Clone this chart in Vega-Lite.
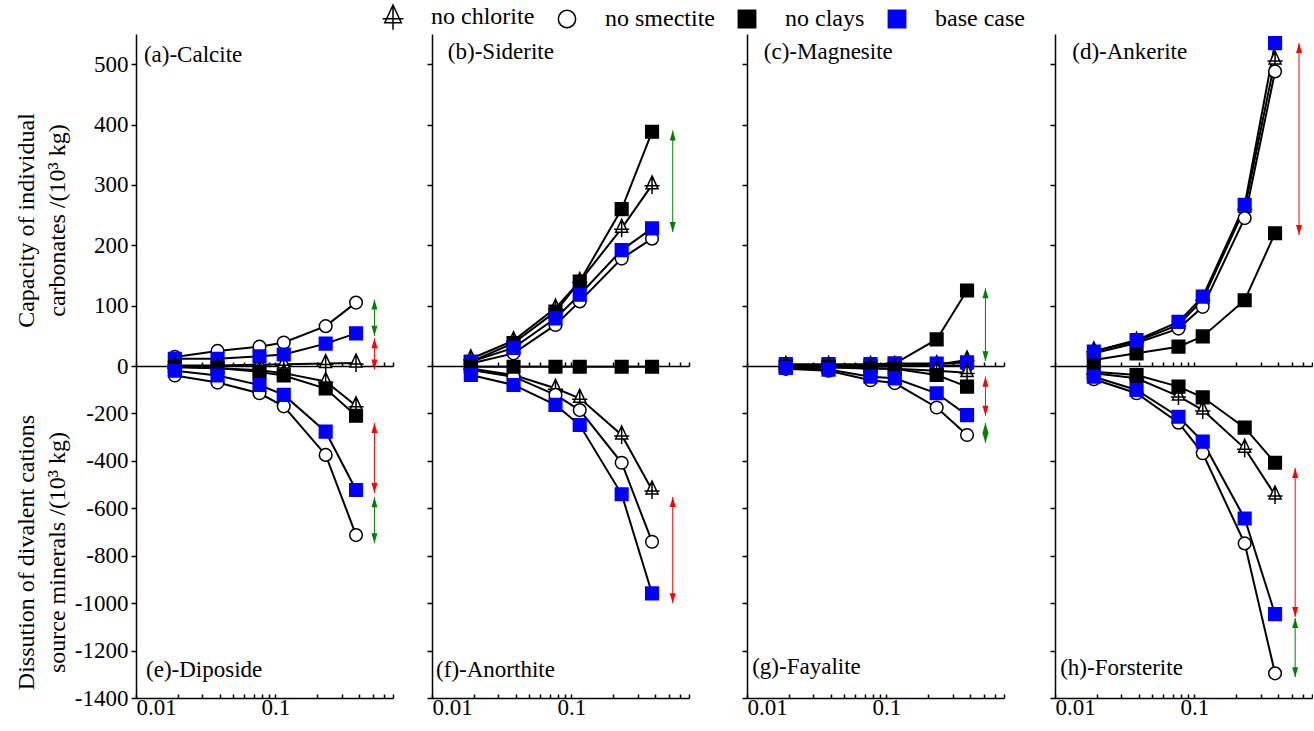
{
"$schema": "https://vega.github.io/schema/vega-lite/v6.json",
"padding": {"left": 13, "top": 5, "right": 0, "bottom": 0},
"config": {
  "font": "Liberation Serif",
  "view": {"stroke": null},
  "axis": {"grid": false, "domainColor": "black", "tickColor": "black", "labelColor": "black", "titleColor": "black", "labelFont": "Liberation Serif", "titleFont": "Liberation Serif", "labelFontSize": 23, "titleFontSize": 24, "titleFontWeight": "normal", "domainWidth": 1.5, "tickWidth": 1.5},
  "legend": {"orient": "none", "legendX": 245, "legendY": -29, "direction": "horizontal", "symbolSize": 300, "symbolStrokeWidth": 1.5, "labelFont": "Liberation Serif", "labelFontSize": 24, "labelColor": "black", "columnPadding": 20, "labelOffset": 26, "padding": 0}
},
"datasets": {
  "pts": [
    {"p":"a","case":"no chlorite","x":0.019,"y":1},{"p":"a","case":"no chlorite","x":0.0385,"y":1},{"p":"a","case":"no chlorite","x":0.077,"y":2},{"p":"a","case":"no chlorite","x":0.115,"y":3},{"p":"a","case":"no chlorite","x":0.23,"y":4},{"p":"a","case":"no chlorite","x":0.38,"y":5},
    {"p":"a","case":"no smectite","x":0.019,"y":15},{"p":"a","case":"no smectite","x":0.0385,"y":25},{"p":"a","case":"no smectite","x":0.077,"y":32},{"p":"a","case":"no smectite","x":0.115,"y":39},{"p":"a","case":"no smectite","x":0.23,"y":66},{"p":"a","case":"no smectite","x":0.38,"y":105},
    {"p":"a","case":"base case","x":0.019,"y":12},{"p":"a","case":"base case","x":0.0385,"y":12},{"p":"a","case":"base case","x":0.077,"y":16},{"p":"a","case":"base case","x":0.115,"y":19},{"p":"a","case":"base case","x":0.23,"y":37},{"p":"a","case":"base case","x":0.38,"y":54},

    {"p":"e","case":"no chlorite","x":0.019,"y":-5},{"p":"e","case":"no chlorite","x":0.0385,"y":-10},{"p":"e","case":"no chlorite","x":0.077,"y":-18},{"p":"e","case":"no chlorite","x":0.115,"y":-30},{"p":"e","case":"no chlorite","x":0.23,"y":-65},{"p":"e","case":"no chlorite","x":0.38,"y":-168},
    {"p":"e","case":"no smectite","x":0.019,"y":-40},{"p":"e","case":"no smectite","x":0.0385,"y":-70},{"p":"e","case":"no smectite","x":0.077,"y":-115},{"p":"e","case":"no smectite","x":0.115,"y":-170},{"p":"e","case":"no smectite","x":0.23,"y":-375},{"p":"e","case":"no smectite","x":0.38,"y":-713},
    {"p":"e","case":"no clays","x":0.019,"y":-3},{"p":"e","case":"no clays","x":0.0385,"y":-8},{"p":"e","case":"no clays","x":0.077,"y":-25},{"p":"e","case":"no clays","x":0.115,"y":-40},{"p":"e","case":"no clays","x":0.23,"y":-95},{"p":"e","case":"no clays","x":0.38,"y":-210},
    {"p":"e","case":"base case","x":0.019,"y":-20},{"p":"e","case":"base case","x":0.0385,"y":-40},{"p":"e","case":"base case","x":0.077,"y":-80},{"p":"e","case":"base case","x":0.115,"y":-122},{"p":"e","case":"base case","x":0.23,"y":-277},{"p":"e","case":"base case","x":0.38,"y":-523},

    {"p":"b","case":"no chlorite","x":0.019,"y":12},{"p":"b","case":"no chlorite","x":0.0385,"y":42},{"p":"b","case":"no chlorite","x":0.077,"y":96},{"p":"b","case":"no chlorite","x":0.115,"y":140},{"p":"b","case":"no chlorite","x":0.23,"y":228},{"p":"b","case":"no chlorite","x":0.38,"y":300},
    {"p":"b","case":"no smectite","x":0.019,"y":4},{"p":"b","case":"no smectite","x":0.0385,"y":21},{"p":"b","case":"no smectite","x":0.077,"y":68},{"p":"b","case":"no smectite","x":0.115,"y":107},{"p":"b","case":"no smectite","x":0.23,"y":178},{"p":"b","case":"no smectite","x":0.38,"y":211},
    {"p":"b","case":"no clays","x":0.019,"y":7},{"p":"b","case":"no clays","x":0.0385,"y":38},{"p":"b","case":"no clays","x":0.077,"y":90},{"p":"b","case":"no clays","x":0.115,"y":140},{"p":"b","case":"no clays","x":0.23,"y":260},{"p":"b","case":"no clays","x":0.38,"y":388},
    {"p":"b","case":"base case","x":0.019,"y":7},{"p":"b","case":"base case","x":0.0385,"y":30},{"p":"b","case":"base case","x":0.077,"y":79},{"p":"b","case":"base case","x":0.115,"y":118},{"p":"b","case":"base case","x":0.23,"y":192},{"p":"b","case":"base case","x":0.38,"y":228},

    {"p":"f","case":"no chlorite","x":0.019,"y":-10},{"p":"f","case":"no chlorite","x":0.0385,"y":-38},{"p":"f","case":"no chlorite","x":0.077,"y":-94},{"p":"f","case":"no chlorite","x":0.115,"y":-136},{"p":"f","case":"no chlorite","x":0.23,"y":-291},{"p":"f","case":"no chlorite","x":0.38,"y":-523},
    {"p":"f","case":"no smectite","x":0.019,"y":-17},{"p":"f","case":"no smectite","x":0.0385,"y":-45},{"p":"f","case":"no smectite","x":0.077,"y":-122},{"p":"f","case":"no smectite","x":0.115,"y":-186},{"p":"f","case":"no smectite","x":0.23,"y":-408},{"p":"f","case":"no smectite","x":0.38,"y":-741},
    {"p":"f","case":"no clays","x":0.019,"y":-3},{"p":"f","case":"no clays","x":0.0385,"y":-3},{"p":"f","case":"no clays","x":0.077,"y":-3},{"p":"f","case":"no clays","x":0.115,"y":-3},{"p":"f","case":"no clays","x":0.23,"y":-3},{"p":"f","case":"no clays","x":0.38,"y":-3},
    {"p":"f","case":"base case","x":0.019,"y":-38},{"p":"f","case":"base case","x":0.0385,"y":-80},{"p":"f","case":"base case","x":0.077,"y":-164},{"p":"f","case":"base case","x":0.115,"y":-249},{"p":"f","case":"base case","x":0.23,"y":-541},{"p":"f","case":"base case","x":0.38,"y":-959},

    {"p":"c","case":"no chlorite","x":0.019,"y":1},{"p":"c","case":"no chlorite","x":0.0385,"y":1},{"p":"c","case":"no chlorite","x":0.077,"y":1},{"p":"c","case":"no chlorite","x":0.115,"y":1},{"p":"c","case":"no chlorite","x":0.23,"y":2},{"p":"c","case":"no chlorite","x":0.38,"y":10},
    {"p":"c","case":"no smectite","x":0.019,"y":1},{"p":"c","case":"no smectite","x":0.0385,"y":1},{"p":"c","case":"no smectite","x":0.077,"y":1},{"p":"c","case":"no smectite","x":0.115,"y":1},{"p":"c","case":"no smectite","x":0.23,"y":1},{"p":"c","case":"no smectite","x":0.38,"y":1},
    {"p":"c","case":"no clays","x":0.019,"y":0},{"p":"c","case":"no clays","x":0.0385,"y":0},{"p":"c","case":"no clays","x":0.077,"y":0},{"p":"c","case":"no clays","x":0.115,"y":4},{"p":"c","case":"no clays","x":0.23,"y":44},{"p":"c","case":"no clays","x":0.38,"y":125},
    {"p":"c","case":"base case","x":0.019,"y":3},{"p":"c","case":"base case","x":0.0385,"y":3},{"p":"c","case":"base case","x":0.077,"y":3},{"p":"c","case":"base case","x":0.115,"y":4},{"p":"c","case":"base case","x":0.23,"y":4},{"p":"c","case":"base case","x":0.38,"y":6},

    {"p":"g","case":"no chlorite","x":0.019,"y":-3},{"p":"g","case":"no chlorite","x":0.0385,"y":-5},{"p":"g","case":"no chlorite","x":0.077,"y":-8},{"p":"g","case":"no chlorite","x":0.115,"y":-12},{"p":"g","case":"no chlorite","x":0.23,"y":-20},{"p":"g","case":"no chlorite","x":0.38,"y":-28},
    {"p":"g","case":"no smectite","x":0.019,"y":-12},{"p":"g","case":"no smectite","x":0.0385,"y":-20},{"p":"g","case":"no smectite","x":0.077,"y":-60},{"p":"g","case":"no smectite","x":0.115,"y":-72},{"p":"g","case":"no smectite","x":0.23,"y":-175},{"p":"g","case":"no smectite","x":0.38,"y":-291},
    {"p":"g","case":"no clays","x":0.019,"y":-5},{"p":"g","case":"no clays","x":0.0385,"y":-5},{"p":"g","case":"no clays","x":0.077,"y":-12},{"p":"g","case":"no clays","x":0.115,"y":-12},{"p":"g","case":"no clays","x":0.23,"y":-38},{"p":"g","case":"no clays","x":0.38,"y":-87},
    {"p":"g","case":"base case","x":0.019,"y":-8},{"p":"g","case":"base case","x":0.0385,"y":-15},{"p":"g","case":"base case","x":0.077,"y":-45},{"p":"g","case":"base case","x":0.115,"y":-52},{"p":"g","case":"base case","x":0.23,"y":-115},{"p":"g","case":"base case","x":0.38,"y":-207},

    {"p":"d","case":"no chlorite","x":0.019,"y":25},{"p":"d","case":"no chlorite","x":0.0385,"y":41},{"p":"d","case":"no chlorite","x":0.077,"y":68},{"p":"d","case":"no chlorite","x":0.115,"y":110},{"p":"d","case":"no chlorite","x":0.23,"y":261},{"p":"d","case":"no chlorite","x":0.38,"y":507},
    {"p":"d","case":"no smectite","x":0.019,"y":21},{"p":"d","case":"no smectite","x":0.0385,"y":38},{"p":"d","case":"no smectite","x":0.077,"y":62},{"p":"d","case":"no smectite","x":0.115,"y":98},{"p":"d","case":"no smectite","x":0.23,"y":245},{"p":"d","case":"no smectite","x":0.38,"y":488},
    {"p":"d","case":"no clays","x":0.019,"y":10},{"p":"d","case":"no clays","x":0.0385,"y":21},{"p":"d","case":"no clays","x":0.077,"y":32},{"p":"d","case":"no clays","x":0.115,"y":49},{"p":"d","case":"no clays","x":0.23,"y":109},{"p":"d","case":"no clays","x":0.38,"y":220},
    {"p":"d","case":"base case","x":0.019,"y":24},{"p":"d","case":"base case","x":0.0385,"y":43},{"p":"d","case":"base case","x":0.077,"y":73},{"p":"d","case":"base case","x":0.115,"y":115},{"p":"d","case":"base case","x":0.23,"y":267},{"p":"d","case":"base case","x":0.38,"y":535},

    {"p":"h","case":"no chlorite","x":0.019,"y":-31},{"p":"h","case":"no chlorite","x":0.0385,"y":-52},{"p":"h","case":"no chlorite","x":0.077,"y":-127},{"p":"h","case":"no chlorite","x":0.115,"y":-186},{"p":"h","case":"no chlorite","x":0.23,"y":-347},{"p":"h","case":"no chlorite","x":0.38,"y":-544},
    {"p":"h","case":"no smectite","x":0.019,"y":-56},{"p":"h","case":"no smectite","x":0.0385,"y":-115},{"p":"h","case":"no smectite","x":0.077,"y":-239},{"p":"h","case":"no smectite","x":0.115,"y":-368},{"p":"h","case":"no smectite","x":0.23,"y":-748},{"p":"h","case":"no smectite","x":0.38,"y":-1296},
    {"p":"h","case":"no clays","x":0.019,"y":-24},{"p":"h","case":"no clays","x":0.0385,"y":-38},{"p":"h","case":"no clays","x":0.077,"y":-87},{"p":"h","case":"no clays","x":0.115,"y":-132},{"p":"h","case":"no clays","x":0.23,"y":-260},{"p":"h","case":"no clays","x":0.38,"y":-408},
    {"p":"h","case":"base case","x":0.019,"y":-45},{"p":"h","case":"base case","x":0.0385,"y":-101},{"p":"h","case":"base case","x":0.077,"y":-214},{"p":"h","case":"base case","x":0.115,"y":-319},{"p":"h","case":"base case","x":0.23,"y":-643},{"p":"h","case":"base case","x":0.38,"y":-1046}
  ],
  "arr": [
    {"p":"a","c":"green","y1":110,"y2":50},{"p":"a","c":"red","y1":46,"y2":-6},
    {"p":"e","c":"red","y1":-240,"y2":-536},{"p":"e","c":"green","y1":-553,"y2":-747},
    {"p":"b","c":"green","y1":390,"y2":222},
    {"p":"f","c":"red","y1":-552,"y2":-1000},
    {"p":"c","c":"green","y1":129,"y2":8},
    {"p":"g","c":"red","y1":-45,"y2":-210},{"p":"g","c":"green","y1":-240,"y2":-325},
    {"p":"d","c":"red","y1":535,"y2":217},
    {"p":"h","c":"red","y1":-430,"y2":-1058},{"p":"h","c":"green","y1":-1063,"y2":-1312}
  ]
},
"hconcat": [
  {"vconcat": [
    {"width": 257, "height": 332, "layer": [
      {"data": {"name": "pts"}, "transform": [{"filter": "datum.p === 'a'"}], "mark": {"type": "line", "color": "black", "strokeWidth": 2},
       "encoding": {"x": {"field": "x", "type": "quantitative", "scale": {"type": "log", "domain": [0.01, 0.7], "nice": false}, "axis": {"values": [0.01,0.02,0.03,0.04,0.05,0.06,0.07,0.08,0.09,0.1,0.2,0.3,0.4,0.5,0.6,0.7], "labels": false, "tickSize": -4, "title": null}},
                    "y": {"field": "y", "type": "quantitative", "scale": {"domain": [0, 550], "nice": false}, "axis": {"values": [0,50,100,150,200,250,300,350,400,450,500], "labelExpr": "datum.value % 100 === 0 ? '' + datum.value : ''", "tickSize": 5, "labelPadding": 3, "title": ["Capacity of individual", "carbonates /(10³ kg)"], "titleX": -98, "titleY": 186, "titleLineHeight": 31}},
                    "detail": {"field": "case"}}},
      {"data": {"name": "pts"}, "transform": [{"filter": "datum.p === 'a'"}], "mark": {"type": "point", "filled": true, "opacity": 1, "size": 160, "strokeWidth": 1.5},
       "encoding": {"x": {"field": "x", "type": "quantitative"},
                    "y": {"field": "y", "type": "quantitative"},
                    "shape": {"field": "case", "type": "nominal", "title": null, "scale": {"domain": ["no chlorite","no smectite","no clays","base case"], "range": ["M0,-1.42L0.95,0.62L-0.95,0.62ZM-1.2,0.15L1.2,0.15M0,-1.42L0,1.42","circle","square","square"]}},
                    "fill": {"field": "case", "type": "nominal", "title": null, "scale": {"domain": ["no chlorite","no smectite","no clays","base case"], "range": ["white","white","black","#0000ff"]}},
                    "stroke": {"field": "case", "type": "nominal", "title": null, "scale": {"domain": ["no chlorite","no smectite","no clays","base case"], "range": ["black","black","black","#0000ff"]}}}},
      {"data": {"name": "arr"}, "transform": [{"filter": "datum.p === 'a'"}], "mark": {"type": "rule", "strokeWidth": 1},
       "encoding": {"x": {"datum": 0.515, "type": "quantitative"},
                    "y": {"field": "y1", "type": "quantitative"}, "y2": {"field": "y2"},
                    "color": {"field": "c", "type": "nominal", "scale": null}}},
      {"data": {"name": "arr"}, "transform": [{"filter": "datum.p === 'a'"}], "mark": {"type": "point", "filled": true, "opacity": 1, "size": 100, "strokeWidth": 0, "shape": "M0,0L0.6,2L-0.6,2Z"},
       "encoding": {"x": {"datum": 0.515, "type": "quantitative"},
                    "y": {"field": "y1", "type": "quantitative"},
                    "color": {"field": "c", "type": "nominal", "scale": null}}},
      {"data": {"name": "arr"}, "transform": [{"filter": "datum.p === 'a'"}], "mark": {"type": "point", "filled": true, "opacity": 1, "size": 100, "strokeWidth": 0, "shape": "M0,0L0.6,-2L-0.6,-2Z"},
       "encoding": {"x": {"datum": 0.515, "type": "quantitative"},
                    "y": {"field": "y2", "type": "quantitative"},
                    "color": {"field": "c", "type": "nominal", "scale": null}}},
      {"data": {"values": [{"t": "(a)-Calcite"}]}, "mark": {"type": "text", "align": "left", "baseline": "middle", "fontSize": 23, "color": "black"},
       "encoding": {"x": {"datum": 0.0114, "type": "quantitative"},
                    "y": {"datum": 515, "type": "quantitative"},
                    "text": {"field": "t"}}}
    ]},
    {"width": 257, "height": 332, "layer": [
      {"data": {"name": "pts"}, "transform": [{"filter": "datum.p === 'e'"}], "mark": {"type": "line", "color": "black", "strokeWidth": 2},
       "encoding": {"x": {"field": "x", "type": "quantitative", "scale": {"type": "log", "domain": [0.01, 0.7], "nice": false}, "axis": {"values": [0.01,0.02,0.03,0.04,0.05,0.06,0.07,0.08,0.09,0.1,0.2,0.3,0.4,0.5,0.6,0.7], "labelExpr": "datum.value === 0.01 ? '0.01' : datum.value === 0.1 ? '0.1' : ''", "tickSize": -4, "labelPadding": 2, "title": null}},
                    "y": {"field": "y", "type": "quantitative", "scale": {"domain": [-1400, 0], "nice": false}, "axis": {"values": [-1400,-1300,-1200,-1100,-1000,-900,-800,-700,-600,-500,-400,-300,-200,-100], "labelExpr": "datum.value % 200 === 0 ? '' + datum.value : ''", "tickSize": 5, "labelPadding": 3, "title": ["Dissution of divalent cations", "source minerals /(10³ kg)"], "titleX": -98, "titleY": 186, "titleLineHeight": 31}},
                    "detail": {"field": "case"}}},
      {"data": {"name": "pts"}, "transform": [{"filter": "datum.p === 'e'"}], "mark": {"type": "point", "filled": true, "opacity": 1, "size": 160, "strokeWidth": 1.5},
       "encoding": {"x": {"field": "x", "type": "quantitative"},
                    "y": {"field": "y", "type": "quantitative"},
                    "shape": {"field": "case", "type": "nominal", "title": null, "scale": {"domain": ["no chlorite","no smectite","no clays","base case"], "range": ["M0,-1.42L0.95,0.62L-0.95,0.62ZM-1.2,0.15L1.2,0.15M0,-1.42L0,1.42","circle","square","square"]}},
                    "fill": {"field": "case", "type": "nominal", "title": null, "scale": {"domain": ["no chlorite","no smectite","no clays","base case"], "range": ["white","white","black","#0000ff"]}},
                    "stroke": {"field": "case", "type": "nominal", "title": null, "scale": {"domain": ["no chlorite","no smectite","no clays","base case"], "range": ["black","black","black","#0000ff"]}}}},
      {"data": {"name": "arr"}, "transform": [{"filter": "datum.p === 'e'"}], "mark": {"type": "rule", "strokeWidth": 1},
       "encoding": {"x": {"datum": 0.515, "type": "quantitative"},
                    "y": {"field": "y1", "type": "quantitative"}, "y2": {"field": "y2"},
                    "color": {"field": "c", "type": "nominal", "scale": null}}},
      {"data": {"name": "arr"}, "transform": [{"filter": "datum.p === 'e'"}], "mark": {"type": "point", "filled": true, "opacity": 1, "size": 100, "strokeWidth": 0, "shape": "M0,0L0.6,2L-0.6,2Z"},
       "encoding": {"x": {"datum": 0.515, "type": "quantitative"},
                    "y": {"field": "y1", "type": "quantitative"},
                    "color": {"field": "c", "type": "nominal", "scale": null}}},
      {"data": {"name": "arr"}, "transform": [{"filter": "datum.p === 'e'"}], "mark": {"type": "point", "filled": true, "opacity": 1, "size": 100, "strokeWidth": 0, "shape": "M0,0L0.6,-2L-0.6,-2Z"},
       "encoding": {"x": {"datum": 0.515, "type": "quantitative"},
                    "y": {"field": "y2", "type": "quantitative"},
                    "color": {"field": "c", "type": "nominal", "scale": null}}},
      {"data": {"values": [{"t": "(e)-Diposide"}]}, "mark": {"type": "text", "align": "left", "baseline": "middle", "fontSize": 23, "color": "black"},
       "encoding": {"x": {"datum": 0.0118, "type": "quantitative"},
                    "y": {"datum": -1282, "type": "quantitative"},
                    "text": {"field": "t"}}}
    ]}
  ], "spacing": 0, "bounds": "flush"},
  {"hconcat": [
    {"vconcat": [
      {"width": 257, "height": 332, "layer": [
        {"data": {"name": "pts"}, "transform": [{"filter": "datum.p === 'b'"}], "mark": {"type": "line", "color": "black", "strokeWidth": 2},
         "encoding": {"x": {"field": "x", "type": "quantitative", "scale": {"type": "log", "domain": [0.01, 0.7], "nice": false}, "axis": {"values": [0.01,0.02,0.03,0.04,0.05,0.06,0.07,0.08,0.09,0.1,0.2,0.3,0.4,0.5,0.6,0.7], "labels": false, "tickSize": -4, "title": null}},
                      "y": {"field": "y", "type": "quantitative", "scale": {"domain": [0, 550], "nice": false}, "axis": {"values": [0,50,100,150,200,250,300,350,400,450,500], "labels": false, "tickSize": 5, "title": null}},
                      "detail": {"field": "case"}}},
        {"data": {"name": "pts"}, "transform": [{"filter": "datum.p === 'b'"}], "mark": {"type": "point", "filled": true, "opacity": 1, "size": 160, "strokeWidth": 1.5},
         "encoding": {"x": {"field": "x", "type": "quantitative"},
                      "y": {"field": "y", "type": "quantitative"},
                      "shape": {"field": "case", "type": "nominal", "title": null, "scale": {"domain": ["no chlorite","no smectite","no clays","base case"], "range": ["M0,-1.42L0.95,0.62L-0.95,0.62ZM-1.2,0.15L1.2,0.15M0,-1.42L0,1.42","circle","square","square"]}},
                      "fill": {"field": "case", "type": "nominal", "title": null, "scale": {"domain": ["no chlorite","no smectite","no clays","base case"], "range": ["white","white","black","#0000ff"]}},
                      "stroke": {"field": "case", "type": "nominal", "title": null, "scale": {"domain": ["no chlorite","no smectite","no clays","base case"], "range": ["black","black","black","#0000ff"]}}}},
        {"data": {"name": "arr"}, "transform": [{"filter": "datum.p === 'b'"}], "mark": {"type": "rule", "strokeWidth": 1},
         "encoding": {"x": {"datum": 0.535, "type": "quantitative"},
                      "y": {"field": "y1", "type": "quantitative"}, "y2": {"field": "y2"},
                      "color": {"field": "c", "type": "nominal", "scale": null}}},
        {"data": {"name": "arr"}, "transform": [{"filter": "datum.p === 'b'"}], "mark": {"type": "point", "filled": true, "opacity": 1, "size": 100, "strokeWidth": 0, "shape": "M0,0L0.6,2L-0.6,2Z"},
         "encoding": {"x": {"datum": 0.535, "type": "quantitative"},
                      "y": {"field": "y1", "type": "quantitative"},
                      "color": {"field": "c", "type": "nominal", "scale": null}}},
        {"data": {"name": "arr"}, "transform": [{"filter": "datum.p === 'b'"}], "mark": {"type": "point", "filled": true, "opacity": 1, "size": 100, "strokeWidth": 0, "shape": "M0,0L0.6,-2L-0.6,-2Z"},
         "encoding": {"x": {"datum": 0.535, "type": "quantitative"},
                      "y": {"field": "y2", "type": "quantitative"},
                      "color": {"field": "c", "type": "nominal", "scale": null}}},
        {"data": {"values": [{"t": "(b)-Siderite"}]}, "mark": {"type": "text", "align": "left", "baseline": "middle", "fontSize": 23, "color": "black"},
         "encoding": {"x": {"datum": 0.013, "type": "quantitative"},
                      "y": {"datum": 520, "type": "quantitative"},
                      "text": {"field": "t"}}}
      ]},
      {"width": 257, "height": 332, "layer": [
        {"data": {"name": "pts"}, "transform": [{"filter": "datum.p === 'f'"}], "mark": {"type": "line", "color": "black", "strokeWidth": 2},
         "encoding": {"x": {"field": "x", "type": "quantitative", "scale": {"type": "log", "domain": [0.01, 0.7], "nice": false}, "axis": {"values": [0.01,0.02,0.03,0.04,0.05,0.06,0.07,0.08,0.09,0.1,0.2,0.3,0.4,0.5,0.6,0.7], "labelExpr": "datum.value === 0.01 ? '0.01' : datum.value === 0.1 ? '0.1' : ''", "tickSize": -4, "labelPadding": 2, "title": null}},
                      "y": {"field": "y", "type": "quantitative", "scale": {"domain": [-1400, 0], "nice": false}, "axis": {"values": [-1400,-1300,-1200,-1100,-1000,-900,-800,-700,-600,-500,-400,-300,-200,-100], "labels": false, "tickSize": 5, "title": null}},
                      "detail": {"field": "case"}}},
        {"data": {"name": "pts"}, "transform": [{"filter": "datum.p === 'f'"}], "mark": {"type": "point", "filled": true, "opacity": 1, "size": 160, "strokeWidth": 1.5},
         "encoding": {"x": {"field": "x", "type": "quantitative"},
                      "y": {"field": "y", "type": "quantitative"},
                      "shape": {"field": "case", "type": "nominal", "title": null, "scale": {"domain": ["no chlorite","no smectite","no clays","base case"], "range": ["M0,-1.42L0.95,0.62L-0.95,0.62ZM-1.2,0.15L1.2,0.15M0,-1.42L0,1.42","circle","square","square"]}},
                      "fill": {"field": "case", "type": "nominal", "title": null, "scale": {"domain": ["no chlorite","no smectite","no clays","base case"], "range": ["white","white","black","#0000ff"]}},
                      "stroke": {"field": "case", "type": "nominal", "title": null, "scale": {"domain": ["no chlorite","no smectite","no clays","base case"], "range": ["black","black","black","#0000ff"]}}}},
        {"data": {"name": "arr"}, "transform": [{"filter": "datum.p === 'f'"}], "mark": {"type": "rule", "strokeWidth": 1},
         "encoding": {"x": {"datum": 0.535, "type": "quantitative"},
                      "y": {"field": "y1", "type": "quantitative"}, "y2": {"field": "y2"},
                      "color": {"field": "c", "type": "nominal", "scale": null}}},
        {"data": {"name": "arr"}, "transform": [{"filter": "datum.p === 'f'"}], "mark": {"type": "point", "filled": true, "opacity": 1, "size": 100, "strokeWidth": 0, "shape": "M0,0L0.6,2L-0.6,2Z"},
         "encoding": {"x": {"datum": 0.535, "type": "quantitative"},
                      "y": {"field": "y1", "type": "quantitative"},
                      "color": {"field": "c", "type": "nominal", "scale": null}}},
        {"data": {"name": "arr"}, "transform": [{"filter": "datum.p === 'f'"}], "mark": {"type": "point", "filled": true, "opacity": 1, "size": 100, "strokeWidth": 0, "shape": "M0,0L0.6,-2L-0.6,-2Z"},
         "encoding": {"x": {"datum": 0.535, "type": "quantitative"},
                      "y": {"field": "y2", "type": "quantitative"},
                      "color": {"field": "c", "type": "nominal", "scale": null}}},
        {"data": {"values": [{"t": "(f)-Anorthite"}]}, "mark": {"type": "text", "align": "left", "baseline": "middle", "fontSize": 23, "color": "black"},
         "encoding": {"x": {"datum": 0.0107, "type": "quantitative"},
                      "y": {"datum": -1282, "type": "quantitative"},
                      "text": {"field": "t"}}}
      ]}
    ], "spacing": 0, "bounds": "flush"},
    {"hconcat": [
      {"vconcat": [
        {"width": 257, "height": 332, "layer": [
          {"data": {"name": "pts"}, "transform": [{"filter": "datum.p === 'c'"}], "mark": {"type": "line", "color": "black", "strokeWidth": 2},
           "encoding": {"x": {"field": "x", "type": "quantitative", "scale": {"type": "log", "domain": [0.01, 0.7], "nice": false}, "axis": {"values": [0.01,0.02,0.03,0.04,0.05,0.06,0.07,0.08,0.09,0.1,0.2,0.3,0.4,0.5,0.6,0.7], "labels": false, "tickSize": -4, "title": null}},
                        "y": {"field": "y", "type": "quantitative", "scale": {"domain": [0, 550], "nice": false}, "axis": {"values": [0,50,100,150,200,250,300,350,400,450,500], "labels": false, "tickSize": 5, "title": null}},
                        "detail": {"field": "case"}}},
          {"data": {"name": "pts"}, "transform": [{"filter": "datum.p === 'c'"}], "mark": {"type": "point", "filled": true, "opacity": 1, "size": 160, "strokeWidth": 1.5},
           "encoding": {"x": {"field": "x", "type": "quantitative"},
                        "y": {"field": "y", "type": "quantitative"},
                        "shape": {"field": "case", "type": "nominal", "title": null, "scale": {"domain": ["no chlorite","no smectite","no clays","base case"], "range": ["M0,-1.42L0.95,0.62L-0.95,0.62ZM-1.2,0.15L1.2,0.15M0,-1.42L0,1.42","circle","square","square"]}},
                        "fill": {"field": "case", "type": "nominal", "title": null, "scale": {"domain": ["no chlorite","no smectite","no clays","base case"], "range": ["white","white","black","#0000ff"]}},
                        "stroke": {"field": "case", "type": "nominal", "title": null, "scale": {"domain": ["no chlorite","no smectite","no clays","base case"], "range": ["black","black","black","#0000ff"]}}}},
          {"data": {"name": "arr"}, "transform": [{"filter": "datum.p === 'c'"}], "mark": {"type": "rule", "strokeWidth": 1},
           "encoding": {"x": {"datum": 0.515, "type": "quantitative"},
                        "y": {"field": "y1", "type": "quantitative"}, "y2": {"field": "y2"},
                        "color": {"field": "c", "type": "nominal", "scale": null}}},
          {"data": {"name": "arr"}, "transform": [{"filter": "datum.p === 'c'"}], "mark": {"type": "point", "filled": true, "opacity": 1, "size": 100, "strokeWidth": 0, "shape": "M0,0L0.6,2L-0.6,2Z"},
           "encoding": {"x": {"datum": 0.515, "type": "quantitative"},
                        "y": {"field": "y1", "type": "quantitative"},
                        "color": {"field": "c", "type": "nominal", "scale": null}}},
          {"data": {"name": "arr"}, "transform": [{"filter": "datum.p === 'c'"}], "mark": {"type": "point", "filled": true, "opacity": 1, "size": 100, "strokeWidth": 0, "shape": "M0,0L0.6,-2L-0.6,-2Z"},
           "encoding": {"x": {"datum": 0.515, "type": "quantitative"},
                        "y": {"field": "y2", "type": "quantitative"},
                        "color": {"field": "c", "type": "nominal", "scale": null}}},
          {"data": {"values": [{"t": "(c)-Magnesite"}]}, "mark": {"type": "text", "align": "left", "baseline": "middle", "fontSize": 23, "color": "black"},
           "encoding": {"x": {"datum": 0.0132, "type": "quantitative"},
                        "y": {"datum": 520, "type": "quantitative"},
                        "text": {"field": "t"}}}
        ]},
        {"width": 257, "height": 332, "layer": [
          {"data": {"name": "pts"}, "transform": [{"filter": "datum.p === 'g'"}], "mark": {"type": "line", "color": "black", "strokeWidth": 2},
           "encoding": {"x": {"field": "x", "type": "quantitative", "scale": {"type": "log", "domain": [0.01, 0.7], "nice": false}, "axis": {"values": [0.01,0.02,0.03,0.04,0.05,0.06,0.07,0.08,0.09,0.1,0.2,0.3,0.4,0.5,0.6,0.7], "labelExpr": "datum.value === 0.01 ? '0.01' : datum.value === 0.1 ? '0.1' : ''", "tickSize": -4, "labelPadding": 2, "title": null}},
                        "y": {"field": "y", "type": "quantitative", "scale": {"domain": [-1400, 0], "nice": false}, "axis": {"values": [-1400,-1300,-1200,-1100,-1000,-900,-800,-700,-600,-500,-400,-300,-200,-100], "labels": false, "tickSize": 5, "title": null}},
                        "detail": {"field": "case"}}},
          {"data": {"name": "pts"}, "transform": [{"filter": "datum.p === 'g'"}], "mark": {"type": "point", "filled": true, "opacity": 1, "size": 160, "strokeWidth": 1.5},
           "encoding": {"x": {"field": "x", "type": "quantitative"},
                        "y": {"field": "y", "type": "quantitative"},
                        "shape": {"field": "case", "type": "nominal", "title": null, "scale": {"domain": ["no chlorite","no smectite","no clays","base case"], "range": ["M0,-1.42L0.95,0.62L-0.95,0.62ZM-1.2,0.15L1.2,0.15M0,-1.42L0,1.42","circle","square","square"]}},
                        "fill": {"field": "case", "type": "nominal", "title": null, "scale": {"domain": ["no chlorite","no smectite","no clays","base case"], "range": ["white","white","black","#0000ff"]}},
                        "stroke": {"field": "case", "type": "nominal", "title": null, "scale": {"domain": ["no chlorite","no smectite","no clays","base case"], "range": ["black","black","black","#0000ff"]}}}},
          {"data": {"name": "arr"}, "transform": [{"filter": "datum.p === 'g'"}], "mark": {"type": "rule", "strokeWidth": 1},
           "encoding": {"x": {"datum": 0.515, "type": "quantitative"},
                        "y": {"field": "y1", "type": "quantitative"}, "y2": {"field": "y2"},
                        "color": {"field": "c", "type": "nominal", "scale": null}}},
          {"data": {"name": "arr"}, "transform": [{"filter": "datum.p === 'g'"}], "mark": {"type": "point", "filled": true, "opacity": 1, "size": 100, "strokeWidth": 0, "shape": "M0,0L0.6,2L-0.6,2Z"},
           "encoding": {"x": {"datum": 0.515, "type": "quantitative"},
                        "y": {"field": "y1", "type": "quantitative"},
                        "color": {"field": "c", "type": "nominal", "scale": null}}},
          {"data": {"name": "arr"}, "transform": [{"filter": "datum.p === 'g'"}], "mark": {"type": "point", "filled": true, "opacity": 1, "size": 100, "strokeWidth": 0, "shape": "M0,0L0.6,-2L-0.6,-2Z"},
           "encoding": {"x": {"datum": 0.515, "type": "quantitative"},
                        "y": {"field": "y2", "type": "quantitative"},
                        "color": {"field": "c", "type": "nominal", "scale": null}}},
          {"data": {"values": [{"t": "(g)-Fayalite"}]}, "mark": {"type": "text", "align": "left", "baseline": "middle", "fontSize": 23, "color": "black"},
           "encoding": {"x": {"datum": 0.0109, "type": "quantitative"},
                        "y": {"datum": -1270, "type": "quantitative"},
                        "text": {"field": "t"}}}
        ]}
      ], "spacing": 0, "bounds": "flush"},
      {"vconcat": [
        {"width": 257, "height": 332, "layer": [
          {"data": {"name": "pts"}, "transform": [{"filter": "datum.p === 'd'"}], "mark": {"type": "line", "color": "black", "strokeWidth": 2},
           "encoding": {"x": {"field": "x", "type": "quantitative", "scale": {"type": "log", "domain": [0.01, 0.7], "nice": false}, "axis": {"values": [0.01,0.02,0.03,0.04,0.05,0.06,0.07,0.08,0.09,0.1,0.2,0.3,0.4,0.5,0.6,0.7], "labels": false, "tickSize": -4, "title": null}},
                        "y": {"field": "y", "type": "quantitative", "scale": {"domain": [0, 550], "nice": false}, "axis": {"values": [0,50,100,150,200,250,300,350,400,450,500], "labels": false, "tickSize": 5, "title": null}},
                        "detail": {"field": "case"}}},
          {"data": {"name": "pts"}, "transform": [{"filter": "datum.p === 'd'"}], "mark": {"type": "point", "filled": true, "opacity": 1, "size": 160, "strokeWidth": 1.5},
           "encoding": {"x": {"field": "x", "type": "quantitative"},
                        "y": {"field": "y", "type": "quantitative"},
                        "shape": {"field": "case", "type": "nominal", "title": null, "scale": {"domain": ["no chlorite","no smectite","no clays","base case"], "range": ["M0,-1.42L0.95,0.62L-0.95,0.62ZM-1.2,0.15L1.2,0.15M0,-1.42L0,1.42","circle","square","square"]}},
                        "fill": {"field": "case", "type": "nominal", "title": null, "scale": {"domain": ["no chlorite","no smectite","no clays","base case"], "range": ["white","white","black","#0000ff"]}},
                        "stroke": {"field": "case", "type": "nominal", "title": null, "scale": {"domain": ["no chlorite","no smectite","no clays","base case"], "range": ["black","black","black","#0000ff"]}}}},
          {"data": {"name": "arr"}, "transform": [{"filter": "datum.p === 'd'"}], "mark": {"type": "rule", "strokeWidth": 1},
           "encoding": {"x": {"datum": 0.565, "type": "quantitative"},
                        "y": {"field": "y1", "type": "quantitative"}, "y2": {"field": "y2"},
                        "color": {"field": "c", "type": "nominal", "scale": null}}},
          {"data": {"name": "arr"}, "transform": [{"filter": "datum.p === 'd'"}], "mark": {"type": "point", "filled": true, "opacity": 1, "size": 100, "strokeWidth": 0, "shape": "M0,0L0.6,2L-0.6,2Z"},
           "encoding": {"x": {"datum": 0.565, "type": "quantitative"},
                        "y": {"field": "y1", "type": "quantitative"},
                        "color": {"field": "c", "type": "nominal", "scale": null}}},
          {"data": {"name": "arr"}, "transform": [{"filter": "datum.p === 'd'"}], "mark": {"type": "point", "filled": true, "opacity": 1, "size": 100, "strokeWidth": 0, "shape": "M0,0L0.6,-2L-0.6,-2Z"},
           "encoding": {"x": {"datum": 0.565, "type": "quantitative"},
                        "y": {"field": "y2", "type": "quantitative"},
                        "color": {"field": "c", "type": "nominal", "scale": null}}},
          {"data": {"values": [{"t": "(d)-Ankerite"}]}, "mark": {"type": "text", "align": "left", "baseline": "middle", "fontSize": 23, "color": "black"},
           "encoding": {"x": {"datum": 0.0133, "type": "quantitative"},
                        "y": {"datum": 520, "type": "quantitative"},
                        "text": {"field": "t"}}}
        ]},
        {"width": 257, "height": 332, "layer": [
          {"data": {"name": "pts"}, "transform": [{"filter": "datum.p === 'h'"}], "mark": {"type": "line", "color": "black", "strokeWidth": 2},
           "encoding": {"x": {"field": "x", "type": "quantitative", "scale": {"type": "log", "domain": [0.01, 0.7], "nice": false}, "axis": {"values": [0.01,0.02,0.03,0.04,0.05,0.06,0.07,0.08,0.09,0.1,0.2,0.3,0.4,0.5,0.6,0.7], "labelExpr": "datum.value === 0.01 ? '0.01' : datum.value === 0.1 ? '0.1' : ''", "tickSize": -4, "labelPadding": 2, "title": null}},
                        "y": {"field": "y", "type": "quantitative", "scale": {"domain": [-1400, 0], "nice": false}, "axis": {"values": [-1400,-1300,-1200,-1100,-1000,-900,-800,-700,-600,-500,-400,-300,-200,-100], "labels": false, "tickSize": 5, "title": null}},
                        "detail": {"field": "case"}}},
          {"data": {"name": "pts"}, "transform": [{"filter": "datum.p === 'h'"}], "mark": {"type": "point", "filled": true, "opacity": 1, "size": 160, "strokeWidth": 1.5},
           "encoding": {"x": {"field": "x", "type": "quantitative"},
                        "y": {"field": "y", "type": "quantitative"},
                        "shape": {"field": "case", "type": "nominal", "title": null, "scale": {"domain": ["no chlorite","no smectite","no clays","base case"], "range": ["M0,-1.42L0.95,0.62L-0.95,0.62ZM-1.2,0.15L1.2,0.15M0,-1.42L0,1.42","circle","square","square"]}},
                        "fill": {"field": "case", "type": "nominal", "title": null, "scale": {"domain": ["no chlorite","no smectite","no clays","base case"], "range": ["white","white","black","#0000ff"]}},
                        "stroke": {"field": "case", "type": "nominal", "title": null, "scale": {"domain": ["no chlorite","no smectite","no clays","base case"], "range": ["black","black","black","#0000ff"]}}}},
          {"data": {"name": "arr"}, "transform": [{"filter": "datum.p === 'h'"}], "mark": {"type": "rule", "strokeWidth": 1},
           "encoding": {"x": {"datum": 0.53, "type": "quantitative"},
                        "y": {"field": "y1", "type": "quantitative"}, "y2": {"field": "y2"},
                        "color": {"field": "c", "type": "nominal", "scale": null}}},
          {"data": {"name": "arr"}, "transform": [{"filter": "datum.p === 'h'"}], "mark": {"type": "point", "filled": true, "opacity": 1, "size": 100, "strokeWidth": 0, "shape": "M0,0L0.6,2L-0.6,2Z"},
           "encoding": {"x": {"datum": 0.53, "type": "quantitative"},
                        "y": {"field": "y1", "type": "quantitative"},
                        "color": {"field": "c", "type": "nominal", "scale": null}}},
          {"data": {"name": "arr"}, "transform": [{"filter": "datum.p === 'h'"}], "mark": {"type": "point", "filled": true, "opacity": 1, "size": 100, "strokeWidth": 0, "shape": "M0,0L0.6,-2L-0.6,-2Z"},
           "encoding": {"x": {"datum": 0.53, "type": "quantitative"},
                        "y": {"field": "y2", "type": "quantitative"},
                        "color": {"field": "c", "type": "nominal", "scale": null}}},
          {"data": {"values": [{"t": "(h)-Forsterite"}]}, "mark": {"type": "text", "align": "left", "baseline": "middle", "fontSize": 23, "color": "black"},
           "encoding": {"x": {"datum": 0.0109, "type": "quantitative"},
                        "y": {"datum": -1274, "type": "quantitative"},
                        "text": {"field": "t"}}}
        ]}
      ], "spacing": 0, "bounds": "flush"}
    ], "spacing": 44}
  ], "spacing": 51}
], "spacing": 32}
